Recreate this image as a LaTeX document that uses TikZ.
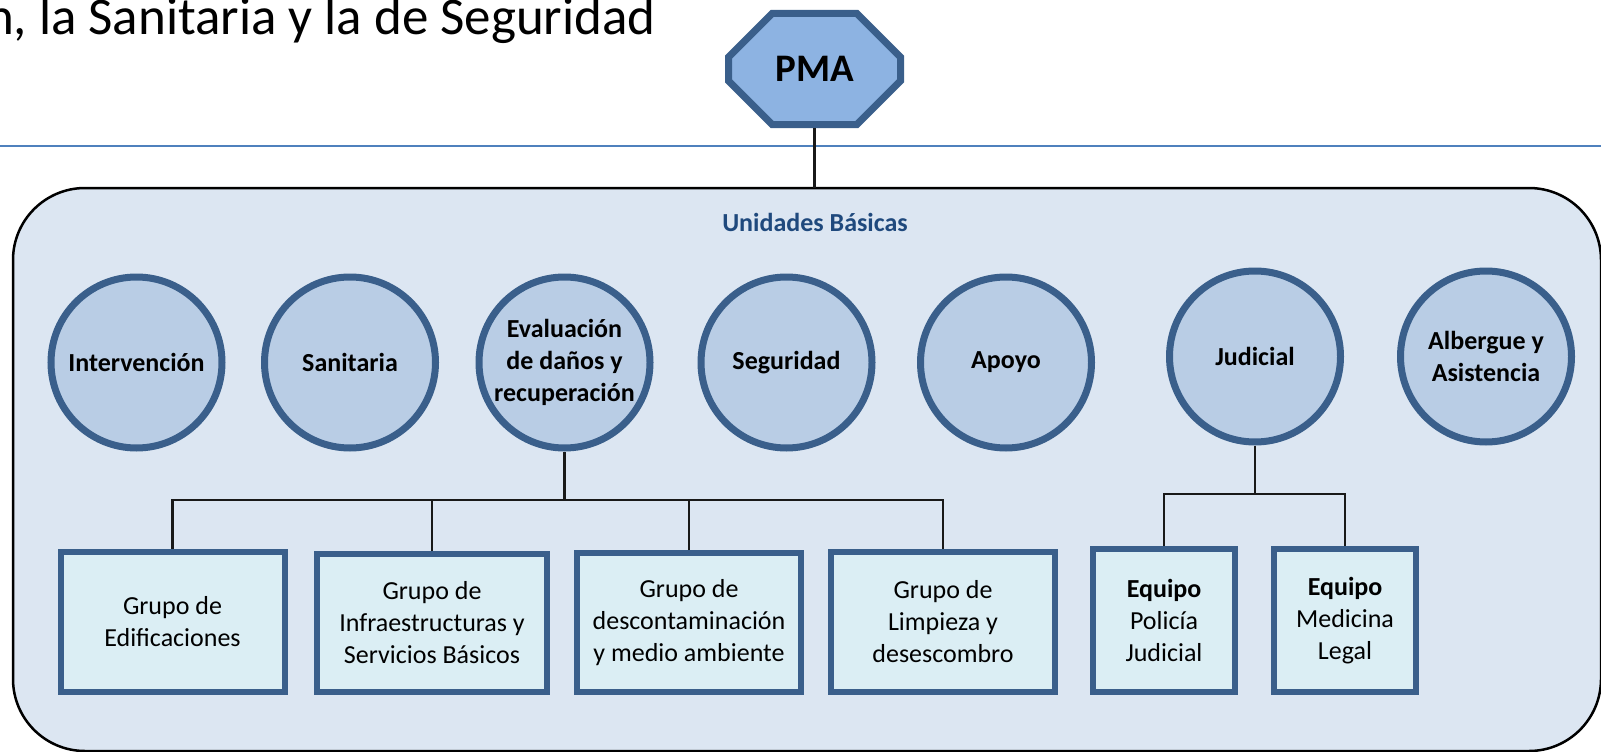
\documentclass[tikz,border=0pt]{standalone}
\usepackage{fontspec}
\setmainfont{Carlito}
\usetikzlibrary{shapes.misc}

\definecolor{rimblue}{HTML}{3A5F8B}
\definecolor{pmafill}{HTML}{8DB3E2}
\definecolor{unitfill}{HTML}{B9CDE5}
\definecolor{groupfill}{HTML}{DBEEF4}
\definecolor{basefill}{HTML}{DCE6F2}
\definecolor{titleblue}{HTML}{1F497D}
\definecolor{ruleblue}{HTML}{4F81BD}

\begin{document}
\begin{tikzpicture}[x=1pt, y=-1pt,
	unit/.style={circle, draw=rimblue, fill=unitfill, line width=7pt, minimum size=171pt, inner sep=0pt, align=center, font=\fontsize{26}{32}\selectfont\bfseries},
	group/.style={rectangle, draw=rimblue, fill=groupfill, line width=6pt, minimum width=224pt, minimum height=140pt, inner sep=0pt, align=center, font=\fontsize{26}{32}\selectfont},
	team/.style={group, minimum width=142pt, minimum height=143pt},
	wire/.style={line width=2.2pt, color=black!90}]
	\useasboundingbox (0,0) rectangle (1601,752);
	\clip (0,0) rectangle (1601,752);

	% heading and rule
	\node [anchor=base east, inner sep=0pt, font=\fontsize{53}{60}\selectfont] (heading) at (656,35) {n, la Sanitaria y la de Seguridad};
	\draw [ruleblue, line width=2pt] (0,146) -- (1601,146);

	% PMA and the frame of the basic units
	\node [chamfered rectangle, chamfered rectangle xsep=35pt, chamfered rectangle ysep=31pt, draw=rimblue, fill=pmafill, line width=7pt, minimum width=172pt, minimum height=111pt, inner sep=0pt, font=\fontsize{39}{44}\selectfont\bfseries] (pma) at (814.5,69) {PMA};
	\node [draw=black, fill=basefill, line width=2.5pt, rounded corners=72pt, minimum width=1588pt, minimum height=563pt, outer sep=0pt, anchor=north west] (base) at (13,188) {};
	\node [text=titleblue, font=\fontsize{26}{32}\selectfont\bfseries] (basetitle) at (815,222) {Unidades Básicas};
	\draw [wire] (pma.south) -- (pma.south |- base.north);

	% units
	\node [unit] (interv) at (136.5,362.5) {Intervención};
	\node [unit] (sanit) at (350,362.5) {Sanitaria};
	\node [unit] (evalu) at (564.5,362.5) {Evaluación\\de daños y\\recuperación};
	\node [unit] (segur) at (786.5,362.5) {Seguridad};
	\node [unit] (apoyo) at (1006,362.5) {Apoyo};
	\node [unit] (judic) at (1255,356.5) {Judicial};
	\node [unit] (alber) at (1486,356.5) {Albergue y\\Asistencia};

	% groups
	\node [group] (edif) at (172.5,621.5) {Grupo de\\Edificaciones};
	\node [group, minimum width=230pt, minimum height=138pt] (infra) at (432,623) {Grupo de\\Infraestructuras y\\Servicios Básicos};
	\node [group, minimum height=139pt] (desco) at (689,622.5) {Grupo de\\descontaminación\\y medio ambiente};
	\node [group] (limp) at (943,621.5) {Grupo de\\Limpieza y\\desescombro};
	\node [team] (polic) at (1164,620.5) {\textbf{Equipo}\\Policía\\Judicial};
	\node [team] (medic) at (1345,620.5) {\textbf{Equipo}\\Medicina\\Legal};

	% links
	\coordinate (evalbus) at (564.5,500);
	\coordinate (judbus) at (1255,494);
	\draw [wire] (evalu.south) -- (evalbus);
	\draw [wire] (edif.north) |- (limp.north |- evalbus) -- (limp.north);
	\foreach \g in {infra, desco}
		\draw [wire] (\g.north) -- (\g.north |- evalbus);
	\draw [wire] (judic.south) -- (judbus);
	\draw [wire] (polic.north) |- (medic.north |- judbus) -- (medic.north);
\end{tikzpicture}
\end{document}
